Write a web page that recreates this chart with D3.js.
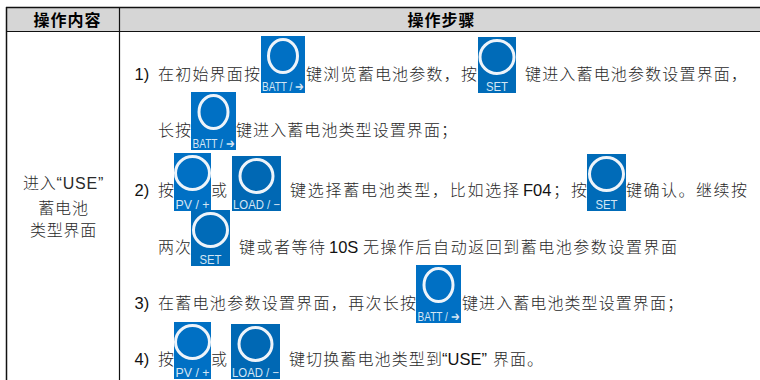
<!DOCTYPE html>
<html>
<head>
<meta charset="utf-8">
<script src="https://cdn.jsdelivr.net/npm/d3@7"></script>
<style>
  html, body { margin: 0; padding: 0; background: #fff; }
  svg { display: block; }
  text { font-family: "Liberation Sans", "Noto Sans CJK SC", sans-serif; }
</style>
</head>
<body>
<svg id="chart" width="760" height="380"></svg>
<script>
// table content
const headers = ["操作内容", "操作步骤"]
const leftCell = ["进入“USE”", "蓄电池", "类型界面"]
const stepNumbers = ["1)", "2)", "3)", "4)"]
const stepTexts = [
  "在初始界面按", "键浏览蓄电池参数，按", "键进入蓄电池参数设置界面，",
  "长按", "键进入蓄电池类型设置界面；",
  "按", "或", "键选择蓄电池类型，比如选择", "F04", "；按", "键确认。继续按",
  "两次", "键或者等待", "10S", "无操作后自动返回到蓄电池参数设置界面",
  "在蓄电池参数设置界面，再次长按", "键进入蓄电池类型设置界面；",
  "按", "或", "键切换蓄电池类型到", "“USE”", "界面。"
]
const buttonKeys = ["BATT", "SET", "BATT", "PV", "LOAD", "SET", "SET", "BATT", "PV", "LOAD"]
const buttonLabels = { BATT: "BATT / ➔", SET: "SET", PV: "PV / +", LOAD: "LOAD / −" }

// layout, kept apart from the content
const lineY = d3.scaleOrdinal([0, 1, 2, 3, 4, 5], [80, 136, 196, 253, 309, 365])
const stepLines = [0, 2, 4, 5]
const textLine = [0, 0, 0, 1, 1, 2, 2, 2, 2, 2, 2, 3, 3, 3, 3, 4, 4, 5, 5, 5, 5, 5]
const textX = [[158, 260], [306, 477], [525, 747], [158, 191], [236, 457], [158, 174], [211, 228],
  [290, 519], [523, 0], [553, 587], [626, 747], [158, 191], [239, 325], [329, 0], [363, 677],
  [158, 416], [462, 683], [158, 174], [211, 228], [289, 442], [442, 0], [493, 543]]
const buttonBox = [[261, 36, 305, 93], [478, 37, 516, 93], [191, 92, 236, 150], [174, 153, 211, 211], [232, 156, 281, 211],
  [587, 154, 626, 211], [191, 210, 230, 266], [416, 265, 461, 323], [174, 322, 211, 379], [231, 324, 280, 379]]
const ringRx = { BATT: 14.5, SET: 17, PV: 17, LOAD: 16.5 }
const buttonFill = { BATT: "#0070c4", SET: "#006bb8", PV: "#0070c4", LOAD: "#0068b4" }
const labelWidth = { BATT: 42, SET: 22, PV: 34, LOAD: 47 }

const svg = d3.select("#chart")
const ink = "#2a2a2a"
const isLatin = d => /^[“0-9A-Z]/.test(d)

// header band and rules
svg.append("rect").attr("x", 7).attr("y", 8).attr("width", 753).attr("height", 24).attr("fill", "#d6d6d6")
const rules = [[6, 7.5, 760, 7.5, 1.5], [6, 31.5, 760, 31.5, 1.2], [6.5, 7, 6.5, 380, 1.5], [119.5, 7, 119.5, 380, 1.2]]
svg.selectAll("line.rule").data(rules).join("line")
  .attr("class", "rule")
  .attr("x1", d => d[0]).attr("y1", d => d[1])
  .attr("x2", d => d[2]).attr("y2", d => d[3])
  .attr("stroke", "#111").attr("stroke-width", d => d[4])

svg.selectAll("text.head").data(headers).join("text")
  .attr("class", "head")
  .attr("x", (d, i) => [67.5, 441.5][i])
  .attr("y", 26)
  .attr("text-anchor", "middle")
  .attr("font-size", 16)
  .attr("font-weight", "bold")
  .attr("letter-spacing", 1)
  .attr("fill", "#000")
  .text(d => d)

svg.selectAll("text.left").data(leftCell).join("text")
  .attr("class", "left")
  .attr("x", 63.5)
  .attr("y", (d, i) => [189, 214, 236][i])
  .attr("text-anchor", "middle")
  .attr("font-size", 16)
  .attr("letter-spacing", 0.8)
  .attr("font-weight", 300)
  .attr("fill", ink)
  .text(d => d)

svg.selectAll("text.num").data(stepNumbers).join("text")
  .attr("class", "num")
  .attr("x", 134.5)
  .attr("y", (d, i) => lineY(stepLines[i]))
  .attr("font-size", 16.5)
  .attr("fill", "#111")
  .text(d => d)

svg.selectAll("text.step").data(stepTexts).join("text")
  .attr("class", "step")
  .attr("x", (d, i) => textX[i][0])
  .attr("y", (d, i) => lineY(textLine[i]))
  .attr("font-size", d => isLatin(d) ? 16.5 : 16)
  .attr("font-weight", d => isLatin(d) ? 400 : 300)
  .attr("fill", d => isLatin(d) ? "#111" : ink)
  .attr("textLength", (d, i) => isLatin(d) ? null : textX[i][1] - textX[i][0])
  .attr("lengthAdjust", "spacing")
  .text(d => d)

// key pictures
const keys = svg.selectAll("g.key").data(buttonKeys).join("g")
  .attr("class", "key")
  .attr("transform", (d, i) => `translate(${buttonBox[i][0]},${buttonBox[i][1]})`)

keys.append("rect")
  .attr("width", (d, i) => buttonBox[i][2] - buttonBox[i][0])
  .attr("height", (d, i) => buttonBox[i][3] - buttonBox[i][1])
  .attr("fill", d => buttonFill[d])

keys.append("ellipse")
  .attr("cx", (d, i) => (buttonBox[i][2] - buttonBox[i][0]) / 2)
  .attr("cy", 20)
  .attr("rx", d => ringRx[d])
  .attr("ry", 16.5)
  .attr("fill", "none")
  .attr("stroke", "#eef4fa")
  .attr("stroke-width", 3)

keys.append("text")
  .attr("x", (d, i) => (buttonBox[i][2] - buttonBox[i][0]) / 2)
  .attr("y", (d, i) => buttonBox[i][3] - buttonBox[i][1] - 2)
  .attr("text-anchor", "middle")
  .attr("font-size", 12.5)
  .attr("fill", "#d5e6f4")
  .attr("textLength", d => labelWidth[d])
  .attr("lengthAdjust", "spacingAndGlyphs")
  .text(d => buttonLabels[d])
</script>
</body>
</html>
